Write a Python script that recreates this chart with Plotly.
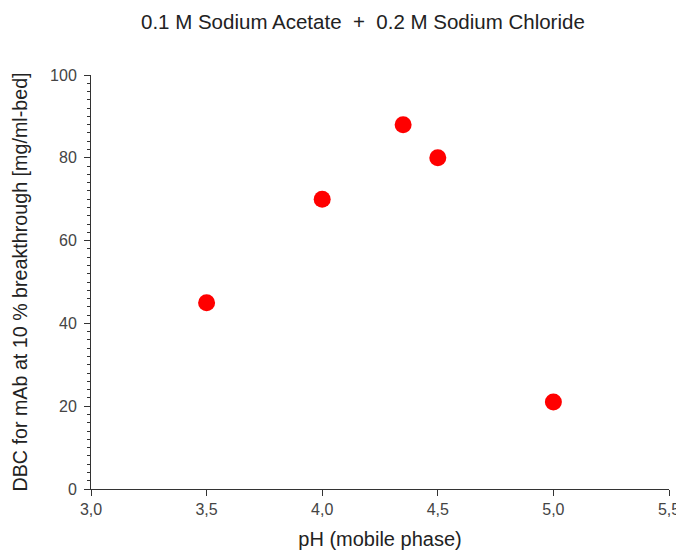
import plotly.graph_objects as go

ph = [3.5, 4.0, 4.35, 4.5, 5.0]
dbc = [45, 70, 88, 80, 21]
x_tickvals = [3.0, 3.5, 4.0, 4.5, 5.0, 5.5]
x_ticktext = ["3,0", "3,5", "4,0", "4,5", "5,0", "5,5"]
y_tickvals = [0, 20, 40, 60, 80, 100]

fig = go.Figure()
fig.add_trace(go.Scatter(
    x=ph, y=dbc, mode="markers",
    marker=dict(color="#ff0000", size=17, line=dict(width=0)),
    showlegend=False,
))

font = "Liberation Sans, Arial, sans-serif"
fig.update_layout(
    width=676, height=551,
    margin=dict(l=83, r=15, t=67, b=70),
    paper_bgcolor="white", plot_bgcolor="white",
    font=dict(family=font, size=16, color="#444"),
    title=dict(text="0.1 M Sodium Acetate  +  0.2 M Sodium Chloride",
               x=0.525, xanchor="center", y=0.975, yanchor="middle",
               font=dict(size=20.5, color="#222")),
    xaxis=dict(
        range=[3.0, 5.5], tickvals=x_tickvals, ticktext=x_ticktext,
        showgrid=False, zeroline=False, showline=True, linecolor="#333", linewidth=1,
        ticks="outside", ticklen=6, tickcolor="#333", automargin=False,
        title=dict(text="pH (mobile phase)", standoff=14, font=dict(size=20, color="#222")),
    ),
    yaxis=dict(
        range=[0, 100], tickvals=y_tickvals,
        showgrid=False, zeroline=False, showline=True, linecolor="#333", linewidth=1,
        ticks="outside", ticklen=6, tickcolor="#333", automargin=False,
        ticklabelstandoff=4,
        minor=dict(dtick=2, ticks="outside", ticklen=3, tickcolor="#333"),
        title=dict(text="DBC for mAb at 10 % breakthrough [mg/ml-bed]", standoff=17,
                   font=dict(size=19.7, color="#222")),
    ),
)

fig.write_html("out.html")
